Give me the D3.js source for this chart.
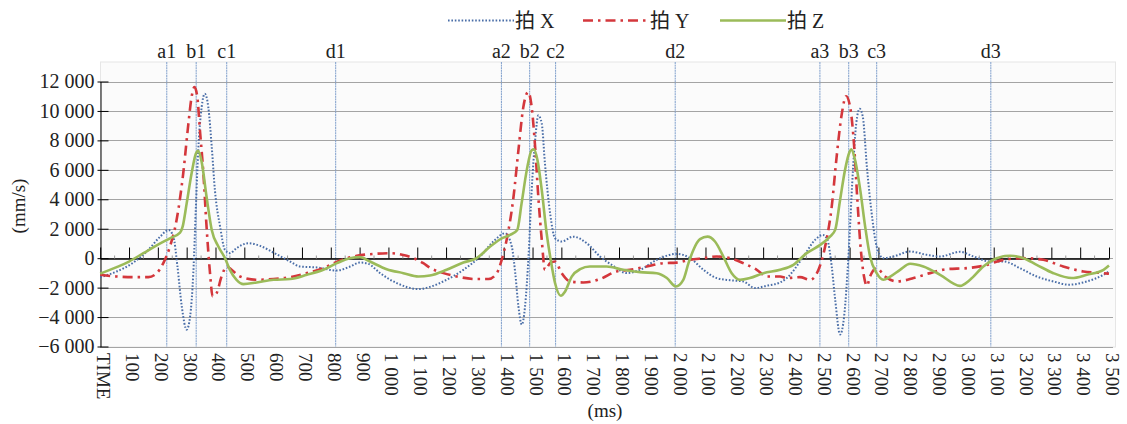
<!DOCTYPE html>
<html><head><meta charset="utf-8">
<script src="https://cdn.jsdelivr.net/npm/d3@7/dist/d3.min.js"></script>
<style>body{margin:0;background:#fff}svg{display:block}</style>
</head><body><svg id="c" width="1127" height="424"></svg>
<script>
// ---- data (time in ms, velocity in mm/s) ----
const seriesX = [[0,-1290],[57,-907],[115,-298],[167,562],[208,1462],[237,1916],[254,1462],[268,-565],[283,-3276],[300,-4854],[312,-3953],[323,-1016],[332,3493],[340,7285],[352,10263],[363,11170],[375,10263],[387,7555],[398,4624],[416,2140],[433,562],[450,338],[473,677],[514,1015],[555,833],[601,380],[659,-230],[694,-568],[752,-632],[821,-840],[867,-568],[901,-298],[930,-383],[971,-1016],[1029,-1693],[1104,-2100],[1144,-1950],[1202,-1469],[1260,-792],[1318,113],[1364,1128],[1405,1693],[1428,785],[1440,-1016],[1451,-3276],[1463,-4515],[1474,-3276],[1486,113],[1497,4624],[1509,8010],[1520,9700],[1532,9140],[1543,6430],[1561,3046],[1578,1354],[1601,1128],[1641,1462],[1688,1015],[1734,113],[1780,-520],[1827,-1016],[1873,-792],[1931,-113],[2000,291],[2047,0],[2093,-792],[2139,-1354],[2185,-1500],[2231,-1582],[2272,-2030],[2313,-1870],[2359,-1650],[2382,-1354],[2440,113],[2480,1241],[2507,1580],[2523,1241],[2538,-565],[2550,-2820],[2567,-5190],[2581,-3953],[2596,113],[2611,5754],[2623,9140],[2635,10150],[2646,9590],[2660,6200],[2678,2818],[2694,785],[2717,0],[2752,113],[2810,451],[2868,226],[2914,113],[2983,430],[3030,113],[3087,-226],[3134,-226],[3191,-677],[3249,-1245],[3307,-1582],[3359,-1800],[3423,-1582],[3481,-1130],[3500,-900]];
const seriesY = [[0,-1130],[57,-1245],[115,-1290],[167,-1290],[196,-1016],[219,-340],[242,785],[265,2590],[288,5750],[306,9140],[317,10940],[327,11620],[337,10940],[346,8690],[358,5750],[369,2140],[381,-1016],[390,-2600],[404,-2370],[421,-1245],[439,-570],[456,-790],[485,-1245],[543,-1470],[601,-1420],[659,-1290],[717,-1016],[774,-680],[832,-160],[890,156],[948,290],[1006,340],[1063,156],[1121,-340],[1144,-650],[1191,-1016],[1237,-1245],[1306,-1420],[1347,-1420],[1376,-1016],[1393,-113],[1410,1240],[1434,4170],[1451,7330],[1468,10260],[1485,11280],[1497,10260],[1509,7550],[1520,4170],[1532,1240],[1543,-790],[1561,-340],[1578,-226],[1601,-1016],[1630,-1580],[1676,-1650],[1734,-1420],[1792,-900],[1838,-790],[1896,-565],[1954,-340],[2000,-300],[2047,-113],[2093,0],[2139,113],[2185,0],[2231,-340],[2278,-790],[2313,-1245],[2359,-1250],[2382,-1350],[2428,-1290],[2463,-1470],[2492,-790],[2515,785],[2538,3500],[2555,6880],[2573,9815],[2588,11000],[2602,10260],[2616,7550],[2627,3950],[2639,560],[2650,-1245],[2660,-1875],[2671,-1245],[2694,-677],[2723,-1245],[2764,-1580],[2822,-1354],[2879,-1016],[2937,-745],[3007,-677],[3064,-520],[3134,-113],[3203,0],[3272,-113],[3341,-565],[3411,-903],[3481,-1016],[3500,-1060]];
const seriesZ = [[0,-1050],[57,-610],[100,-230],[150,340],[199,900],[242,1350],[277,1730],[286,2140],[300,3720],[317,5750],[332,7110],[340,7290],[352,6540],[369,4170],[387,1920],[410,790],[433,0],[450,-790],[473,-1470],[497,-1760],[543,-1650],[601,-1470],[659,-1420],[717,-1130],[774,-790],[821,-340],[867,0],[901,70],[936,-230],[994,-750],[1052,-1020],[1104,-1250],[1144,-1180],[1202,-790],[1260,-300],[1306,0],[1353,790],[1393,1350],[1422,1580],[1447,1920],[1462,3720],[1480,5980],[1497,7330],[1505,7390],[1517,6660],[1532,4620],[1549,1690],[1563,-110],[1578,-1690],[1598,-2550],[1613,-2260],[1636,-1250],[1665,-750],[1699,-570],[1757,-570],[1815,-790],[1873,-950],[1931,-1020],[1966,-1350],[1997,-1920],[2023,-1470],[2041,-340],[2058,560],[2081,1290],[2107,1460],[2133,1130],[2162,110],[2191,-1020],[2220,-1470],[2254,-1350],[2301,-1020],[2359,-790],[2405,-450],[2451,340],[2498,900],[2532,1460],[2550,1920],[2567,3950],[2584,5980],[2600,7220],[2606,7390],[2619,6660],[2637,4620],[2654,2140],[2671,110],[2694,-1020],[2717,-1470],[2741,-1250],[2775,-790],[2810,-380],[2856,-570],[2914,-1130],[2983,-1880],[3018,-1470],[3064,-570],[3110,0],[3157,160],[3203,0],[3249,-450],[3307,-1020],[3371,-1350],[3423,-1130],[3481,-790],[3500,-500]];
const seriesNames = ['拍 X', '拍 Y', '拍 Z'];
const markerLabels = ['a1','b1','c1','d1','a2','b2','c2','d2','a3','b3','c3','d3'];
const markerTimes = [231,333,439,817,1392,1490,1580,1995,2497,2597,2694,3090];
const yTickValues = [-6000,-4000,-2000,0,2000,4000,6000,8000,10000,12000];
const xTickValues = d3.range(0, 3501, 100);
const xFirstLabel = 'TIME';

// ---- drawing ----
const svg = d3.select('#c');
const serif = '"Liberation Serif","Times New Roman","Noto Sans CJK SC",serif';
const x = d3.scaleLinear().domain([0, 3500]).range([100.2, 1109]);
const y = d3.scaleLinear().domain([-6000, 12000]).range([346.5, 81.5]);
const fmt = n => {
  const s = Math.abs(n) >= 1000 ? Math.floor(Math.abs(n)/1000) + ' ' + String(Math.abs(n)%1000).padStart(3,'0') : String(Math.abs(n));
  return (n < 0 ? '\u2212' : '') + s;
};

// plot background
svg.append('rect').attr('x', 100.5).attr('y', 62).attr('width', 1015).attr('height', 285)
  .attr('fill', '#fbfbfb').attr('stroke', '#e6e6e6');

// gridlines
svg.append('g').selectAll('line').data(yTickValues).join('line')
  .attr('x1', 100).attr('x2', 1113)
  .attr('y1', d => Math.round(y(d)) + 0.5).attr('y2', d => Math.round(y(d)) + 0.5)
  .attr('stroke', '#a4a4a4').attr('stroke-width', 1);

// y axis
const yAxis = d3.axisLeft(y).tickValues(yTickValues).tickFormat(fmt).tickSizeInner(-8).tickSizeOuter(0).tickPadding(14);
const gy = svg.append('g').attr('transform', 'translate(100.5,0)').call(yAxis);
gy.select('.domain').attr('stroke', '#000');
gy.selectAll('.tick line').attr('stroke', '#000').attr('x1', -3);
gy.selectAll('.tick text').attr('font-family', serif).attr('font-size', 20).attr('fill', '#222').attr('x', -6);

// marker vertical lines
svg.append('g').selectAll('line').data(markerTimes).join('line')
  .attr('x1', d => x(d)).attr('x2', d => x(d)).attr('y1', 62).attr('y2', 346.5)
  .attr('stroke', '#7f9fcc').attr('stroke-width', 1).attr('stroke-dasharray', '2,0.6');
svg.append('g').selectAll('text').data(markerTimes).join('text')
  .attr('x', d => x(d)).attr('y', 58).attr('text-anchor', 'middle')
  .attr('font-family', serif).attr('font-size', 20).attr('fill', '#222')
  .text((d, i) => markerLabels[i]);

// zero axis with ticks
const zeroY = Math.round(y(0)) + 0.5;
const xAxis = d3.axisTop(x).tickValues(xTickValues).tickFormat('').tickSizeInner(11).tickSizeOuter(0);
const gx = svg.append('g').attr('transform', `translate(0,${zeroY})`).call(xAxis);
gx.select('.domain').attr('stroke', '#000').attr('stroke-width', 1.3);
gx.selectAll('.tick line').attr('stroke', '#000');
svg.append('g').selectAll('line').data(xTickValues.slice(0, -1).map(d => d + 50)).join('line')
  .attr('x1', d => x(d)).attr('x2', d => x(d)).attr('y1', zeroY - 3).attr('y2', zeroY)
  .attr('stroke', '#999');

// x tick labels (rotated)
svg.append('g').selectAll('text').data(xTickValues).join('text')
  .attr('transform', d => `translate(${x(d) + 3.5},353) rotate(90)`)
  .attr('dominant-baseline', 'central')
  .attr('font-family', serif).attr('font-size', 19).attr('fill', '#222')
  .text(d => d === 0 ? xFirstLabel : fmt(d));

// axis titles
svg.append('text').attr('transform', 'translate(18,206) rotate(-90)').attr('text-anchor', 'middle')
  .attr('dominant-baseline', 'central')
  .attr('font-family', serif).attr('font-size', 19).attr('fill', '#222').text('(mm/s)');
svg.append('text').attr('x', 605).attr('y', 417).attr('text-anchor', 'middle')
  .attr('font-family', serif).attr('font-size', 19).attr('fill', '#222').text('(ms)');

// series
const styles = [
  {color: '#4a6ea8', width: 2, dash: '1.6,1.8'},
  {color: '#d4373c', width: 2.6, dash: '10,5,2.5,5'},
  {color: '#9bbb59', width: 2.6, dash: null}
];
const line = d3.line().x(d => x(d[0])).y(d => y(d[1])).curve(d3.curveMonotoneX);
[seriesX, seriesY, seriesZ].forEach((s, i) => {
  svg.append('path').datum(s).attr('d', line).attr('fill', 'none')
    .attr('stroke', styles[i].color).attr('stroke-width', styles[i].width)
    .attr('stroke-dasharray', styles[i].dash).attr('stroke-linejoin', 'round');
});

// legend
const legendX = [448, 583, 720];
const lg = svg.append('g');
seriesNames.forEach((n, i) => {
  lg.append('line').attr('x1', legendX[i]).attr('x2', legendX[i] + 66).attr('y1', 20.5).attr('y2', 20.5)
    .attr('stroke', styles[i].color).attr('stroke-width', styles[i].width).attr('stroke-dasharray', styles[i].dash);
  lg.append('text').attr('x', legendX[i] + 67).attr('y', 20.5).attr('dominant-baseline', 'central')
    .attr('font-family', serif).attr('font-size', 20).attr('fill', '#222').text(n);
});
</script></body></html>
